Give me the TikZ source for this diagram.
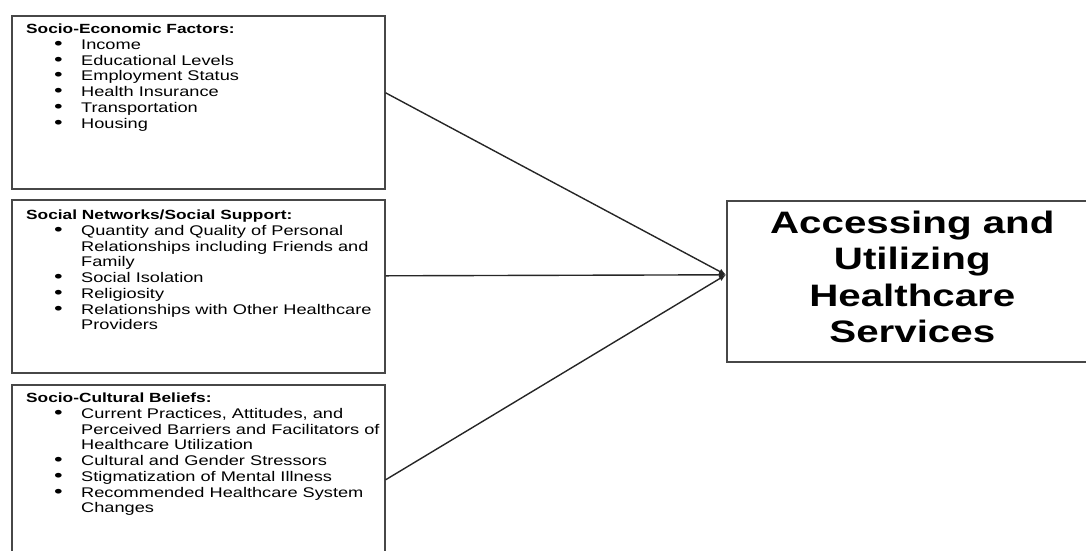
\documentclass[tikz,border=0pt]{standalone}
\usepackage{fontspec}
\setmainfont{Liberation Sans}[FakeStretch=1.3]
\usetikzlibrary{arrows.meta, positioning}
\colorlet{colorBox}{black!72}
\colorlet{colorLink}{black!85}
\newcommand{\itm}{\hspace*{28pt}\makebox[27pt][l]{\scalebox{1.35}[1.25]{\textbullet}}}
\newcommand{\cont}{\hspace*{55pt}}
\newcommand{\head}[1]{\textbf{\fontsize{13.3}{15.7}\selectfont #1}}

\begin{document}
\begin{tikzpicture}[x=1pt, y=-1pt, >={Latex[length=7pt,width=6pt]},
  factor/.style={draw=colorBox, line width=1.6pt, minimum width=373pt, minimum height=173pt, anchor=north west, inner sep=0pt},
  factortext/.style={align=left, inner sep=0pt, font=\fontsize{14}{15.7}\selectfont},
  outcome/.style={draw=colorBox, line width=1.6pt, minimum width=371pt, minimum height=161pt, anchor=north west, align=center, text depth=9pt, inner sep=0pt, font=\fontsize{31}{36.3}\selectfont\bfseries},
  link/.style={->, colorLink, line width=1.4pt}]
\useasboundingbox (0,0) rectangle (1086,550);
\clip (0,0) rectangle (1086,550);

% factor boxes
\node[factor] (econ) at (11,15) {};
\node[factor] (supp) at (11,199) {};
\node[factor] (cult) at (11,384) {};

\node[factortext, below right=9pt and 15pt of econ.north west] (econtxt) {\head{Socio-Economic Factors:}\\
\itm Income\\
\itm Educational Levels\\
\itm Employment Status\\
\itm Health Insurance\\
\itm Transportation\\
\itm Housing};

\node[factortext, below right=11pt and 15pt of supp.north west] (supptxt) {\head{Social Networks/Social Support:}\\
\itm Quantity and Quality of Personal\\
\cont Relationships including Friends and\\
\cont Family\\
\itm Social Isolation\\
\itm Religiosity\\
\itm Relationships with Other Healthcare\\
\cont Providers};

\node[factortext, below right=9pt and 15pt of cult.north west] (culttxt) {\head{Socio-Cultural Beliefs:}\\
\itm Current Practices, Attitudes, and\\
\cont Perceived Barriers and Facilitators of\\
\cont Healthcare Utilization\\
\itm Cultural and Gender Stressors\\
\itm Stigmatization of Mental Illness\\
\itm Recommended Healthcare System\\
\cont Changes};

% outcome
\node[outcome] (util) at (726,200) {Accessing and\\Utilizing\\Healthcare\\Services};
\coordinate (hub) at ([yshift=6.5pt]util.west);

% links
\draw[link] ([yshift=9.5pt]econ.east) -- (hub);
\draw[link] ([yshift=10.5pt]supp.east) -- (hub);
\draw[link] ([yshift=-8.5pt]cult.east) -- (hub);
\end{tikzpicture}
\end{document}
